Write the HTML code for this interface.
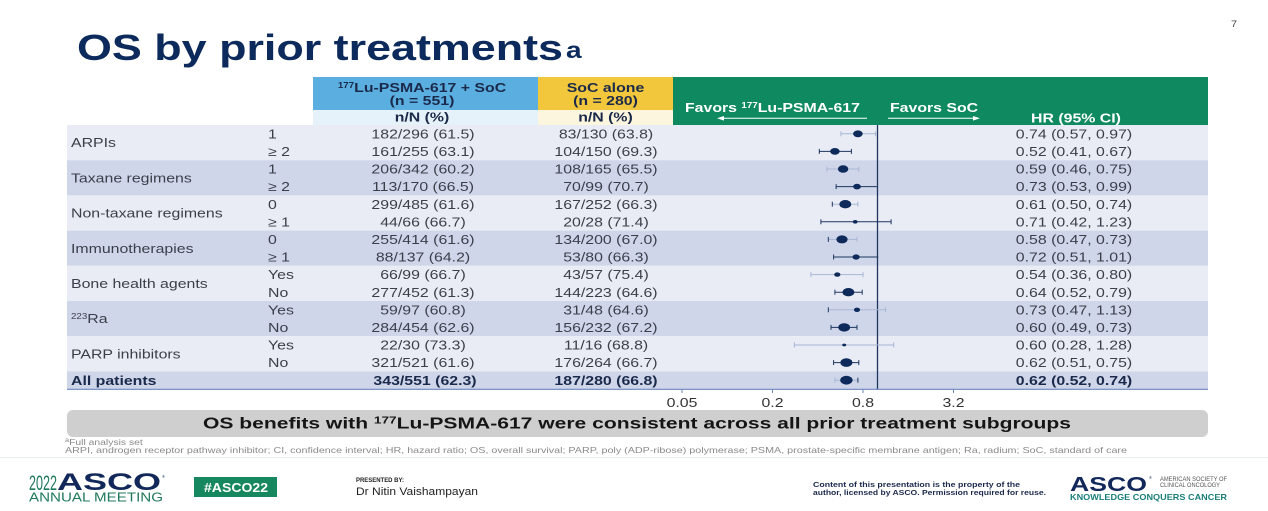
<!DOCTYPE html>
<html>
<head>
<meta charset="utf-8">
<style>
  html,body{margin:0;padding:0;background:#ffffff;}
  svg{display:block;}
  .t{font-family:"Liberation Sans",Arial,sans-serif;font-size:13px;fill:#3a3f4a;}
  .m{text-anchor:middle;}
  .b{font-weight:bold;}
  .w{fill:#ffffff;}
  .n{fill:#1b2a4a;}
</style>
</head>
<body>
<svg width="1268" height="511" viewBox="0 0 1268 511" xmlns="http://www.w3.org/2000/svg">
  <rect x="0" y="0" width="1268" height="511" fill="#ffffff"/>

  <!-- page number -->
  <text class="t" transform="translate(1231,27) scale(1.22,1)" style="font-size:9px;fill:#444">7</text>

  <!-- Title -->
  <text x="77" y="60" font-family="Liberation Sans, Arial, sans-serif" font-size="36" font-weight="bold" fill="#0c2a5b" textLength="486" lengthAdjust="spacingAndGlyphs">OS by prior treatments</text>
  <text transform="translate(566,58) scale(1.22,1)" font-family="Liberation Sans, Arial, sans-serif" font-size="23" font-weight="bold" fill="#0c2a5b">a</text>

  <!-- Header boxes -->
  <rect x="313" y="77" width="225" height="33" fill="#5aaee0"/>
  <rect x="313" y="110" width="225" height="15" fill="#e6f2fa"/>
  <rect x="538" y="77" width="135" height="33" fill="#f2c73c"/>
  <rect x="538" y="110" width="135" height="15" fill="#fcf6df"/>
  <rect x="673" y="77" width="535" height="48" fill="#0f8a60"/>

  <!-- Header texts -->
  <text class="t b m n" transform="translate(422,92) scale(1.22,1)"><tspan font-size="8" dy="-4">177</tspan><tspan dy="4">Lu-PSMA-617 + SoC</tspan></text>
  <text class="t b m n" transform="translate(422,105) scale(1.22,1)">(n = 551)</text>
  <text class="t b m n" transform="translate(422,121.5) scale(1.22,1)">n/N (%)</text>
  <text class="t b m n" transform="translate(605.5,92) scale(1.22,1)">SoC alone</text>
  <text class="t b m n" transform="translate(605.5,105) scale(1.22,1)">(n = 280)</text>
  <text class="t b m n" transform="translate(605.5,121.5) scale(1.22,1)">n/N (%)</text>

  <text class="t b w" transform="translate(685,112) scale(1.22,1)">Favors <tspan font-size="8" dy="-4">177</tspan><tspan dy="4">Lu-PSMA-617</tspan></text>
  <line x1="722" y1="118.3" x2="867" y2="118.3" stroke="#ffffff" stroke-width="1"/>
  <polygon points="717,118.3 724,116 724,120.6" fill="#ffffff"/>
  <text class="t b w" transform="translate(890,112) scale(1.22,1)">Favors SoC</text>
  <line x1="888" y1="118.3" x2="975" y2="118.3" stroke="#ffffff" stroke-width="1"/>
  <polygon points="980,118.3 973,116 973,120.6" fill="#ffffff"/>
  <text class="t b w m" transform="translate(1076,122.5) scale(1.22,1)">HR (95%  CI)</text>

  <!-- Row group backgrounds -->
  <rect x="67" y="125" width="1141" height="35.2" fill="#e9ecf5"/>
  <rect x="67" y="160.2" width="1141" height="35.2" fill="#cfd6ea"/>
  <rect x="67" y="195.4" width="1141" height="35.2" fill="#e9ecf5"/>
  <rect x="67" y="230.6" width="1141" height="35.2" fill="#cfd6ea"/>
  <rect x="67" y="265.8" width="1141" height="35.2" fill="#e9ecf5"/>
  <rect x="67" y="301" width="1141" height="35.2" fill="#cfd6ea"/>
  <rect x="67" y="336.2" width="1141" height="35.2" fill="#e9ecf5"/>
  <rect x="67" y="371.4" width="1141" height="17.6" fill="#cfd6ea"/>

  <!-- Group labels -->
  <text class="t" transform="translate(71,147.2) scale(1.22,1)">ARPIs</text>
  <text class="t" transform="translate(71,182.4) scale(1.22,1)">Taxane regimens</text>
  <text class="t" transform="translate(71,217.6) scale(1.22,1)">Non-taxane regimens</text>
  <text class="t" transform="translate(71,252.8) scale(1.22,1)">Immunotherapies</text>
  <text class="t" transform="translate(71,288) scale(1.22,1)">Bone health agents</text>
  <text class="t" transform="translate(71,323.2) scale(1.22,1)"><tspan font-size="8" dy="-4">223</tspan><tspan dy="4">Ra</tspan></text>
  <text class="t" transform="translate(71,358.4) scale(1.22,1)">PARP inhibitors</text>
  <text class="t b n" transform="translate(71,384.8) scale(1.22,1)">All patients</text>

  <!-- Sub labels -->
  <text class="t" transform="translate(268,138.4) scale(1.22,1)">1</text>
  <text class="t" transform="translate(268,156.0) scale(1.22,1)">≥ 2</text>
  <text class="t" transform="translate(268,173.6) scale(1.22,1)">1</text>
  <text class="t" transform="translate(268,191.2) scale(1.22,1)">≥ 2</text>
  <text class="t" transform="translate(268,208.8) scale(1.22,1)">0</text>
  <text class="t" transform="translate(268,226.4) scale(1.22,1)">≥ 1</text>
  <text class="t" transform="translate(268,244.0) scale(1.22,1)">0</text>
  <text class="t" transform="translate(268,261.6) scale(1.22,1)">≥ 1</text>
  <text class="t" transform="translate(268,279.2) scale(1.22,1)">Yes</text>
  <text class="t" transform="translate(268,296.8) scale(1.22,1)">No</text>
  <text class="t" transform="translate(268,314.4) scale(1.22,1)">Yes</text>
  <text class="t" transform="translate(268,332.0) scale(1.22,1)">No</text>
  <text class="t" transform="translate(268,349.6) scale(1.22,1)">Yes</text>
  <text class="t" transform="translate(268,367.2) scale(1.22,1)">No</text>

  <!-- Column 1 -->
  <text class="t m" transform="translate(423,138.4) scale(1.22,1)">182/296 (61.5)</text>
  <text class="t m" transform="translate(423,156.0) scale(1.22,1)">161/255 (63.1)</text>
  <text class="t m" transform="translate(423,173.6) scale(1.22,1)">206/342 (60.2)</text>
  <text class="t m" transform="translate(423,191.2) scale(1.22,1)">113/170 (66.5)</text>
  <text class="t m" transform="translate(423,208.8) scale(1.22,1)">299/485 (61.6)</text>
  <text class="t m" transform="translate(423,226.4) scale(1.22,1)">44/66 (66.7)</text>
  <text class="t m" transform="translate(423,244.0) scale(1.22,1)">255/414 (61.6)</text>
  <text class="t m" transform="translate(423,261.6) scale(1.22,1)">88/137 (64.2)</text>
  <text class="t m" transform="translate(423,279.2) scale(1.22,1)">66/99 (66.7)</text>
  <text class="t m" transform="translate(423,296.8) scale(1.22,1)">277/452 (61.3)</text>
  <text class="t m" transform="translate(423,314.4) scale(1.22,1)">59/97 (60.8)</text>
  <text class="t m" transform="translate(423,332.0) scale(1.22,1)">284/454 (62.6)</text>
  <text class="t m" transform="translate(423,349.6) scale(1.22,1)">22/30 (73.3)</text>
  <text class="t m" transform="translate(423,367.2) scale(1.22,1)">321/521 (61.6)</text>
  <text class="t m b n" transform="translate(425,384.8) scale(1.22,1)">343/551 (62.3)</text>

  <!-- Column 2 -->
  <text class="t m" transform="translate(606,138.4) scale(1.22,1)">83/130 (63.8)</text>
  <text class="t m" transform="translate(606,156.0) scale(1.22,1)">104/150 (69.3)</text>
  <text class="t m" transform="translate(606,173.6) scale(1.22,1)">108/165 (65.5)</text>
  <text class="t m" transform="translate(606,191.2) scale(1.22,1)">70/99 (70.7)</text>
  <text class="t m" transform="translate(606,208.8) scale(1.22,1)">167/252 (66.3)</text>
  <text class="t m" transform="translate(606,226.4) scale(1.22,1)">20/28 (71.4)</text>
  <text class="t m" transform="translate(606,244.0) scale(1.22,1)">134/200 (67.0)</text>
  <text class="t m" transform="translate(606,261.6) scale(1.22,1)">53/80 (66.3)</text>
  <text class="t m" transform="translate(606,279.2) scale(1.22,1)">43/57 (75.4)</text>
  <text class="t m" transform="translate(606,296.8) scale(1.22,1)">144/223 (64.6)</text>
  <text class="t m" transform="translate(606,314.4) scale(1.22,1)">31/48 (64.6)</text>
  <text class="t m" transform="translate(606,332.0) scale(1.22,1)">156/232 (67.2)</text>
  <text class="t m" transform="translate(606,349.6) scale(1.22,1)">11/16 (68.8)</text>
  <text class="t m" transform="translate(606,367.2) scale(1.22,1)">176/264 (66.7)</text>
  <text class="t m b n" transform="translate(606,384.8) scale(1.22,1)">187/280 (66.8)</text>

  <!-- HR column -->
  <text class="t m" transform="translate(1074,138.4) scale(1.22,1)">0.74 (0.57, 0.97)</text>
  <text class="t m" transform="translate(1074,156.0) scale(1.22,1)">0.52 (0.41, 0.67)</text>
  <text class="t m" transform="translate(1074,173.6) scale(1.22,1)">0.59 (0.46, 0.75)</text>
  <text class="t m" transform="translate(1074,191.2) scale(1.22,1)">0.73 (0.53, 0.99)</text>
  <text class="t m" transform="translate(1074,208.8) scale(1.22,1)">0.61 (0.50, 0.74)</text>
  <text class="t m" transform="translate(1074,226.4) scale(1.22,1)">0.71 (0.42, 1.23)</text>
  <text class="t m" transform="translate(1074,244.0) scale(1.22,1)">0.58 (0.47, 0.73)</text>
  <text class="t m" transform="translate(1074,261.6) scale(1.22,1)">0.72 (0.51, 1.01)</text>
  <text class="t m" transform="translate(1074,279.2) scale(1.22,1)">0.54 (0.36, 0.80)</text>
  <text class="t m" transform="translate(1074,296.8) scale(1.22,1)">0.64 (0.52, 0.79)</text>
  <text class="t m" transform="translate(1074,314.4) scale(1.22,1)">0.73 (0.47, 1.13)</text>
  <text class="t m" transform="translate(1074,332.0) scale(1.22,1)">0.60 (0.49, 0.73)</text>
  <text class="t m" transform="translate(1074,349.6) scale(1.22,1)">0.60 (0.28, 1.28)</text>
  <text class="t m" transform="translate(1074,367.2) scale(1.22,1)">0.62 (0.51, 0.75)</text>
  <text class="t m b n" transform="translate(1074,384.8) scale(1.22,1)">0.62 (0.52, 0.74)</text>

  <!-- Reference line at HR=1 -->
  <line x1="877.5" y1="125" x2="877.5" y2="389" stroke="#1e3560" stroke-width="1.3"/>

  <!-- Forest whiskers: light (even rows) / dark (odd rows) -->
  <g stroke-width="1">
    <g stroke="#a8b6d4">
      <line x1="840.9" y1="133.8" x2="875.6" y2="133.8"/><line x1="840.9" y1="131.3" x2="840.9" y2="136.3"/><line x1="875.6" y1="131.3" x2="875.6" y2="136.3"/>
      <line x1="826.9" y1="169.0" x2="858.8" y2="169.0"/><line x1="826.9" y1="166.5" x2="826.9" y2="171.5"/><line x1="858.8" y1="166.5" x2="858.8" y2="171.5"/>
      <line x1="832.3" y1="204.2" x2="857.9" y2="204.2"/>
      <line x1="828.3" y1="239.4" x2="857.0" y2="239.4"/>
      <line x1="810.9" y1="274.6" x2="863.0" y2="274.6"/><line x1="810.9" y1="272.1" x2="810.9" y2="277.1"/><line x1="863.0" y1="272.1" x2="863.0" y2="277.1"/>
      <line x1="828.3" y1="309.8" x2="885.6" y2="309.8"/><line x1="885.6" y1="307.3" x2="885.6" y2="312.3"/>
      <line x1="794.4" y1="345.0" x2="893.7" y2="345.0"/><line x1="794.4" y1="342.5" x2="794.4" y2="347.5"/><line x1="893.7" y1="342.5" x2="893.7" y2="347.5"/>
      <line x1="834.9" y1="380.2" x2="857.9" y2="380.2"/><line x1="834.9" y1="377.7" x2="834.9" y2="382.7"/>
      <line x1="857.9" y1="201.7" x2="857.9" y2="206.7"/>
      <line x1="857.0" y1="236.9" x2="857.0" y2="241.9"/>
    </g>
    <g stroke="#1e3560">
      <line x1="832.3" y1="201.7" x2="832.3" y2="206.7"/>
      <line x1="828.3" y1="236.9" x2="828.3" y2="241.9"/>
      <line x1="828.3" y1="307.3" x2="828.3" y2="312.3"/>
      <line x1="857.9" y1="377.7" x2="857.9" y2="382.7"/>
      <line x1="819.3" y1="151.4" x2="851.4" y2="151.4"/><line x1="819.3" y1="148.9" x2="819.3" y2="153.9"/><line x1="851.4" y1="148.9" x2="851.4" y2="153.9"/>
      <line x1="836.1" y1="186.6" x2="876.9" y2="186.6"/><line x1="836.1" y1="184.1" x2="836.1" y2="189.1"/>
      <line x1="820.9" y1="221.8" x2="891.1" y2="221.8"/><line x1="820.9" y1="219.3" x2="820.9" y2="224.3"/><line x1="891.1" y1="219.3" x2="891.1" y2="224.3"/>
      <line x1="833.6" y1="257.0" x2="878.2" y2="257.0"/><line x1="833.6" y1="254.5" x2="833.6" y2="259.5"/>
      <line x1="834.9" y1="292.2" x2="862.2" y2="292.2"/><line x1="834.9" y1="289.7" x2="834.9" y2="294.7"/><line x1="862.2" y1="289.7" x2="862.2" y2="294.7"/>
      <line x1="831.0" y1="327.4" x2="857.0" y2="327.4"/><line x1="831.0" y1="324.9" x2="831.0" y2="329.9"/><line x1="857.0" y1="324.9" x2="857.0" y2="329.9"/>
      <line x1="833.6" y1="362.6" x2="858.8" y2="362.6"/><line x1="833.6" y1="360.1" x2="833.6" y2="365.1"/><line x1="858.8" y1="360.1" x2="858.8" y2="365.1"/>
    </g>
  </g>

  <!-- Forest points -->
  <g fill="#0d2a5a">
    <ellipse cx="857.9" cy="133.8" rx="4.8" ry="3.4"/>
    <ellipse cx="834.9" cy="151.4" rx="4.8" ry="3.4"/>
    <ellipse cx="843.1" cy="169.0" rx="5.2" ry="3.7"/>
    <ellipse cx="857.0" cy="186.6" rx="3.9" ry="2.8"/>
    <ellipse cx="845.3" cy="204.2" rx="5.9" ry="4.2"/>
    <ellipse cx="855.2" cy="221.8" rx="2.5" ry="1.8"/>
    <ellipse cx="842.0" cy="239.4" rx="5.6" ry="4.0"/>
    <ellipse cx="856.1" cy="257.0" rx="3.6" ry="2.6"/>
    <ellipse cx="837.3" cy="274.6" rx="3.1" ry="2.2"/>
    <ellipse cx="848.4" cy="292.2" rx="5.9" ry="4.2"/>
    <ellipse cx="857.0" cy="309.8" rx="3.1" ry="2.2"/>
    <ellipse cx="844.2" cy="327.4" rx="5.9" ry="4.2"/>
    <ellipse cx="844.2" cy="345.0" rx="2.0" ry="1.4"/>
    <ellipse cx="846.4" cy="362.6" rx="6.0" ry="4.3"/>
    <ellipse cx="846.4" cy="380.2" rx="6.2" ry="4.4"/>
  </g>

  <!-- Table bottom line / axis -->
  <line x1="67" y1="389.3" x2="1208" y2="389.3" stroke="#6a86bd" stroke-width="1.2"/>
  <g stroke="#6a86bd" stroke-width="1">
    <line x1="682" y1="389" x2="682" y2="393"/>
    <line x1="772.5" y1="389" x2="772.5" y2="393"/>
    <line x1="863" y1="389" x2="863" y2="393"/>
    <line x1="953.5" y1="389" x2="953.5" y2="393"/>
  </g>
  <text class="t m" transform="translate(682,407) scale(1.22,1)" style="fill:#333">0.05</text>
  <text class="t m" transform="translate(772.5,407) scale(1.22,1)" style="fill:#333">0.2</text>
  <text class="t m" transform="translate(863,407) scale(1.22,1)" style="fill:#333">0.8</text>
  <text class="t m" transform="translate(953.5,407) scale(1.22,1)" style="fill:#333">3.2</text>

  <!-- Banner -->
  <rect x="67" y="410" width="1141" height="27" rx="6" ry="6" fill="#cfcfcf"/>
  <text x="203" y="428.5" font-family="Liberation Sans, Arial, sans-serif" font-size="15.5" font-weight="bold" fill="#151515" textLength="868" lengthAdjust="spacingAndGlyphs">OS benefits with <tspan font-size="10" dy="-5">177</tspan><tspan dy="5">Lu-PSMA-617 were consistent across all prior treatment subgroups</tspan></text>

  <!-- Footnotes -->
  <text class="t" transform="translate(65,445) scale(1.22,1)" style="font-size:8.5px;fill:#8a8a8a"><tspan font-size="6" dy="-3">a</tspan><tspan dy="3">Full analysis set</tspan></text>
  <text x="65" y="453" font-family="Liberation Sans, Arial, sans-serif" font-size="8.5" fill="#8a8a8a" textLength="1062" lengthAdjust="spacingAndGlyphs">ARPI, androgen receptor pathway inhibitor; CI, confidence interval; HR, hazard ratio; OS, overall survival; PARP, poly (ADP-ribose) polymerase; PSMA, prostate-specific membrane antigen; Ra, radium; SoC, standard of care</text>

  <!-- separator -->
  <line x1="0" y1="457.5" x2="1268" y2="457.5" stroke="#e6efef" stroke-width="1"/>

  <!-- Footer left logo -->
  <text x="29" y="490" font-family="Liberation Sans, Arial, sans-serif" font-size="21" fill="#1f7a5a" textLength="28" lengthAdjust="spacingAndGlyphs">2022</text>
  <text x="57" y="490" font-family="Liberation Sans, Arial, sans-serif" font-size="24" font-weight="bold" fill="#13285a" textLength="104" lengthAdjust="spacingAndGlyphs">ASCO</text>
  <text x="162" y="478" font-family="Liberation Sans, Arial, sans-serif" font-size="4" fill="#13285a">®</text>
  <text x="29" y="501.5" font-family="Liberation Sans, Arial, sans-serif" font-size="12.5" fill="#1f7a5a" textLength="134" lengthAdjust="spacingAndGlyphs">ANNUAL MEETING</text>

  <rect x="194" y="477" width="83" height="20" fill="#17875f"/>
  <text x="204" y="492" font-family="Liberation Sans, Arial, sans-serif" font-size="13" font-weight="bold" fill="#ffffff" textLength="64" lengthAdjust="spacingAndGlyphs">#ASCO22</text>

  <text x="356" y="482" font-family="Liberation Sans, Arial, sans-serif" font-size="6.5" font-weight="bold" fill="#222" textLength="48" lengthAdjust="spacingAndGlyphs">PRESENTED BY:</text>
  <text x="356" y="495" font-family="Liberation Sans, Arial, sans-serif" font-size="11" fill="#222" textLength="122" lengthAdjust="spacingAndGlyphs">Dr Nitin Vaishampayan</text>

  <!-- Footer right -->
  <text x="813" y="487" font-family="Liberation Sans, Arial, sans-serif" font-size="7.5" font-weight="bold" fill="#1c2a4d" textLength="207" lengthAdjust="spacingAndGlyphs">Content of this presentation is the property of the</text>
  <text x="813" y="495" font-family="Liberation Sans, Arial, sans-serif" font-size="7.5" font-weight="bold" fill="#1c2a4d" textLength="233" lengthAdjust="spacingAndGlyphs">author, licensed by ASCO. Permission required for reuse.</text>

  <text x="1070" y="491" font-family="Liberation Sans, Arial, sans-serif" font-size="20" font-weight="bold" fill="#13285a" textLength="77" lengthAdjust="spacingAndGlyphs">ASCO</text>
  <text x="1149" y="479" font-family="Liberation Sans, Arial, sans-serif" font-size="4" fill="#13285a">®</text>
  <text x="1160" y="481" font-family="Liberation Sans, Arial, sans-serif" font-size="6" fill="#555" textLength="67" lengthAdjust="spacingAndGlyphs">AMERICAN SOCIETY OF</text>
  <text x="1160" y="487" font-family="Liberation Sans, Arial, sans-serif" font-size="6" fill="#555" textLength="60" lengthAdjust="spacingAndGlyphs">CLINICAL ONCOLOGY</text>
  <text x="1070" y="500" font-family="Liberation Sans, Arial, sans-serif" font-size="8.5" font-weight="bold" fill="#1a7f7a" textLength="157" lengthAdjust="spacingAndGlyphs">KNOWLEDGE CONQUERS CANCER</text>
</svg>
</body>
</html>
